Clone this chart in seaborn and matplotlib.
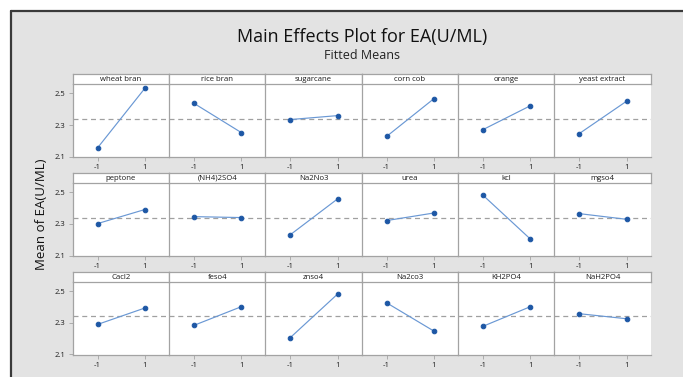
import numpy as np
import pandas as pd
import matplotlib
matplotlib.use('Agg')
import matplotlib.pyplot as plt
import seaborn as sns
from matplotlib.patches import Rectangle
from matplotlib.lines import Line2D

# factor names as in the panel strips
factors = ['wheat bran', 'rice bran', 'sugarcane', 'corn cob', 'orange', 'yeast extract',
           'peptone', '(NH4)2SO4', 'Na2No3', 'urea', 'kcl', 'mgso4',
           'Cacl2', 'feso4', 'znso4', 'Na2co3', 'KH2PO4', 'NaH2PO4']
# fitted means at level -1 and level 1
low_means = [2.156, 2.438, 2.335, 2.228, 2.271, 2.246,
             2.302, 2.346, 2.231, 2.321, 2.482, 2.365,
             2.289, 2.283, 2.205, 2.426, 2.277, 2.357]
high_means = [2.533, 2.253, 2.360, 2.467, 2.422, 2.451,
              2.391, 2.340, 2.458, 2.369, 2.205, 2.329,
              2.393, 2.401, 2.481, 2.247, 2.401, 2.325]
levels = [-1, 1]
grand_mean = 2.34
y_ticks = [2.1, 2.3, 2.5]

rows = []
for f, lo, hi in zip(factors, low_means, high_means):
    rows.append({'factor': f, 'level': levels[0], 'mean': lo})
    rows.append({'factor': f, 'level': levels[1], 'mean': hi})
df = pd.DataFrame(rows)

sns.set_theme(style='white')
plt.rcParams['font.family'] = ['Open Sans', 'DejaVu Sans']

W, H = 683, 377
bg = '#e3e3e3'
grid_col = '#a3a3a3'
line_col = '#6a98d4'
dot_col = '#1d57a5'

g = sns.FacetGrid(df, col='factor', col_wrap=6, col_order=factors,
                  sharex=True, sharey=True, height=1.0, aspect=1.3)
g.map_dataframe(sns.lineplot, x='level', y='mean', color=line_col, lw=0.85,
                marker='o', markersize=3.3, markerfacecolor=dot_col,
                markeredgecolor=dot_col)
fig = g.figure
fig.set_size_inches(W / 100, H / 100)
fig.set_dpi(100)
fig.patch.set_facecolor('white')

# gray panel with dark frame on top and left
fig.add_artist(Rectangle((11 / W, 0), 1 - 11 / W, 1 - 11 / H, transform=fig.transFigure,
                         facecolor=bg, edgecolor='none', zorder=-10))
fig.add_artist(Line2D([11 / W, 11 / W], [0, 1 - 11 / H], transform=fig.transFigure,
                      color='#3a3a3a', lw=1.6))
fig.add_artist(Line2D([11 / W, 1], [1 - 11 / H, 1 - 11 / H], transform=fig.transFigure,
                      color='#3a3a3a', lw=1.6))

left0 = 72.7
col_w = 96.33
ax_tops = [84, 182.8, 281.6]
ax_h = 73.5
strip_h = 10

for i, ax in enumerate(g.axes.flat):
    r, c = divmod(i, 6)
    x0 = left0 + c * col_w
    y1 = ax_tops[r]
    ax.set_position([x0 / W, 1 - (y1 + ax_h) / H, col_w / W, ax_h / H])
    ax.set_facecolor('white')
    ax.set_title('')
    ax.set_xlabel('')
    ax.set_ylabel('')
    ax.set_xlim(-2.05, 2.02)
    ax.set_ylim(2.095, 2.56)
    ax.set_xticks(levels)
    ax.set_xticklabels(['-1', '1'])
    ax.set_yticks(y_ticks)
    ax.set_yticklabels([f'{v:.1f}' for v in y_ticks])
    ax.axhline(grand_mean, color='#a0a0a0', ls=(0, (4, 3)), lw=0.9, zorder=0)
    for s in ax.spines.values():
        s.set_color(grid_col)
        s.set_linewidth(0.9)
    ax.tick_params(axis='both', which='both', direction='out', length=3, width=0.6,
                   color=grid_col, labelsize=5.5, pad=2, labelcolor='#1a1a1a',
                   bottom=True, left=(c == 0), labelbottom=True, labelleft=(c == 0))
    # strip with factor name
    sax = fig.add_axes([x0 / W, 1 - y1 / H, col_w / W, strip_h / H])
    sax.set_facecolor('white')
    sax.set_xticks([])
    sax.set_yticks([])
    for s in sax.spines.values():
        s.set_color(grid_col)
        s.set_linewidth(0.9)
    sax.text(0.5, 0.45, factors[i], ha='center', va='center', fontsize=5.6,
             color='#1a1a1a', transform=sax.transAxes)

fig.text(361.7 / W, 1 - 37 / H, 'Main Effects Plot for EA(U/ML)', ha='center', va='center',
         fontsize=13, color='#111111')
fig.text(361.7 / W, 1 - 55.5 / H, 'Fitted Means', ha='center', va='center',
         fontsize=9, color='#222222')
fig.text(41.7 / W, 1 - 214 / H, 'Mean of EA(U/ML)', ha='center', va='center',
         rotation=90, fontsize=9.5, color='#111111')

fig.savefig('out.png', dpi=100, facecolor=fig.get_facecolor())
